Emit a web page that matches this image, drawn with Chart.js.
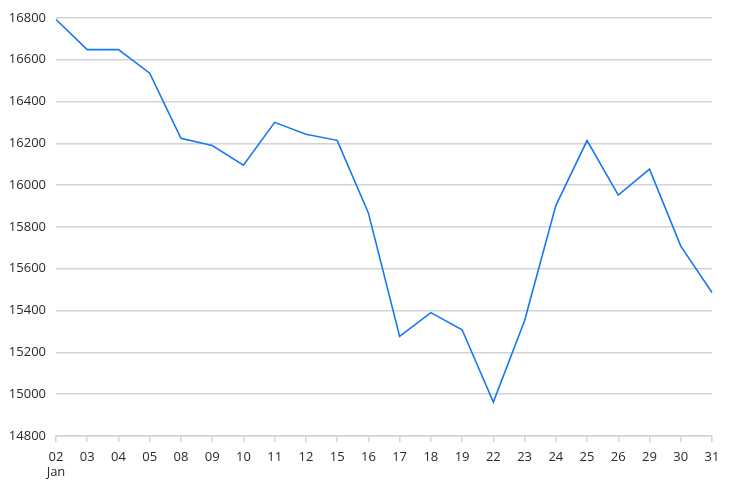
<!DOCTYPE html>
<html>
<head>
<meta charset="utf-8">
<script src="https://cdn.jsdelivr.net/npm/chart.js@4"></script>
<style>
html,body{margin:0;padding:0;background:#fff;}
#wrap{width:736px;height:493px;position:relative;}
</style>
</head>
<body>
<div id="wrap"><canvas id="c"></canvas></div>
<script>
const days = ["02","03","04","05","08","09","10","11","12","15","16","17","18","19","22","23","24","25","26","29","30","31"];
const monthLabel = "Jan";
const values = [16792,16648,16648,16535,16224,16189,16095,16300,16243,16214,15867,15276,15390,15308,14962,15351,15902,16213,15952,16076,15708,15486];
const yTicks = [14800,15000,15200,15400,15600,15800,16000,16200,16400,16600,16800];

const labels = days.map((d,i)=> i===0 ? [d, monthLabel] : d);

new Chart(document.getElementById('c'), {
  type: 'line',
  data: {
    labels: labels,
    datasets: [{
      data: values,
      borderColor: 'rgb(22,120,240)',
      borderWidth: 1.6,
      pointRadius: 0,
      tension: 0,
      fill: false
    }]
  },
  options: {
    responsive: true,
    maintainAspectRatio: false,
    animation: false,
    devicePixelRatio: 1,
    layout: { padding: { top: 9, right: 24, left: 0, bottom: 0 } },
    plugins: { legend: { display: false }, tooltip: { enabled: false } },
    scales: {
      x: {
        type: 'category',
        offset: false,
        grid: { drawOnChartArea: false, drawTicks: true, tickLength: 6, color: '#d3d3d3', lineWidth: 1.5 },
        border: { display: true, color: '#d3d3d3', width: 1.5 },
        ticks: { color: '#2a2a2a', font: { family: 'Open Sans', size: 13, lineHeight: 1.2 }, maxRotation: 0, autoSkip: false, padding: 7 },
        afterFit: (s) => { s.height = 57; }
      },
      y: {
        min: yTicks[0],
        max: yTicks[yTicks.length-1],
        afterBuildTicks: (s) => { s.ticks = yTicks.map(v => ({ value: v })); },
        grid: { color: '#d3d3d3', lineWidth: 1.5, drawTicks: false },
        border: { display: false },
        ticks: { color: '#2a2a2a', font: { family: 'Open Sans', size: 13 }, padding: 10, callback: (v) => String(v) },
        afterFit: (s) => { s.width = 56; }
      }
    }
  }
});
</script>
</body>
</html>
